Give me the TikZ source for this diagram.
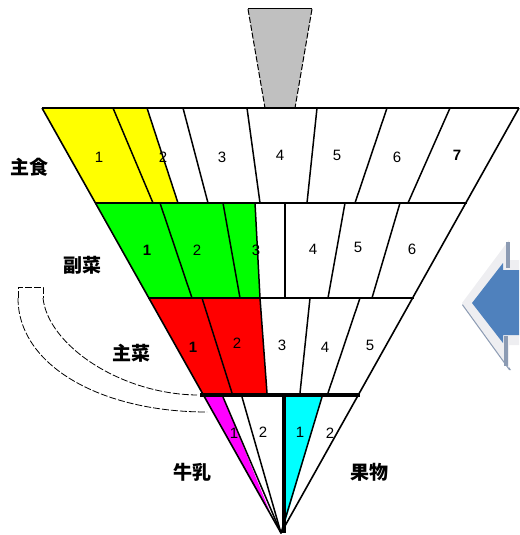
\documentclass[tikz,border=0pt]{standalone}
\usepackage{fontspec}
\setmainfont{Liberation Sans}
\newfontfamily\cjk{Noto Sans CJK JP}
\begin{document}
\begin{tikzpicture}[x=1pt,y=-1pt,line join=round,
  num/.style={font=\fontsize{15}{15}\selectfont,inner sep=0pt},
  bnum/.style={font=\bfseries\fontsize{15}{15}\selectfont,inner sep=0pt},
  lab/.style={font=\cjk\bfseries\fontsize{19}{19}\selectfont,inner sep=0pt},
  edge/.style={line width=1.6pt},
  divl/.style={line width=1.5pt},
  rowl/.style={line width=2.8pt},
  band/.style={line width=0.8pt,dash pattern=on 7pt off 2pt}]
\useasboundingbox (0,0) rectangle (519,535);
\definecolor{cgray}{HTML}{C0C0C0}
\definecolor{cyel}{HTML}{FFFF00}
\definecolor{cgrn}{HTML}{00FF00}
\definecolor{cred}{HTML}{FF0000}
\definecolor{cmag}{HTML}{FF00FF}
\definecolor{ccyan}{HTML}{00FFFF}
\definecolor{arrblue}{HTML}{4F81BD}
\definecolor{bevel}{HTML}{EEEEF1}
\definecolor{shad}{HTML}{8C9BB3}
% handle
\fill[cgray] (248,9)--(312,9)--(295,108)--(265,108)--cycle;
\draw[line width=1pt] (248,9)--(312,9);
\draw[line width=1pt,dash pattern=on 6pt off 2pt] (248,9)--(265,108);
\draw[line width=1pt,dash pattern=on 6pt off 2pt] (312,9)--(295,108);
% colour fills
\fill[cyel] (42,108)--(147,108)--(178,203)--(95.4,203)--cycle;
\fill[cgrn] (95.4,203)--(255,203)--(260,298)--(148.9,298)--cycle;
\fill[cred] (148.9,298)--(260,298)--(267,393)--(202.3,393)--cycle;
\fill[cmag] (204,397)--(223,397)--(270,512)--cycle;
\fill[ccyan] (285,397)--(322,397)--(286,520)--cycle;
% outline
\draw[edge] (42,108)--(519,108);
\draw[edge] (42,108)--(281,533)--(519,108);
\draw[rowl] (95,203)--(467,203);
\draw[rowl] (148,298)--(414,298);
\draw[line width=4.5pt] (200,395)--(360,395);
% row 1 dividers
\foreach \a/\b in {113/153,147/178,183/208,247/260,317/307,387/355,450/408}
  \draw[divl] (\a,108)--(\b,203);
% row 2 dividers
\foreach \a/\b in {160/192,223/240,255/260,285/285,345/328,400/372}
  \draw[divl] (\a,203)--(\b,298);
% row 3 dividers
\foreach \a/\b in {202/232,260/267,310/300,360/328}
  \draw[divl] (\a,298)--(\b,393);
% row 4
\draw[divl] (223,397)--(281,533);
\draw[divl] (242,397)--(281,533);
\draw[divl] (322,397)--(281,533);
\draw[line width=4pt] (283.5,395)--(283.5,533);
% numbers row 1
\node[num] (a1) at (99,157) {1};
\node[num] (a2) at (163,157) {2};
\node[num] (a3) at (222,157) {3};
\node[num] (a4) at (280,155) {4};
\node[num] (a5) at (337,155) {5};
\node[num] (a6) at (397,157) {6};
\node[bnum] (a7) at (457,155) {7};
% row 2
\node[bnum] (b1) at (147,250) {1};
\node[num] (b2) at (197,250) {2};
\node[num] (b3) at (256,250) {3};
\node[num] (b4) at (313,249) {4};
\node[num] (b5) at (358,247) {5};
\node[num] (b6) at (412,249) {6};
% row 3
\node[bnum] (c1) at (193,347) {1};
\node[num] (c2) at (237,343) {2};
\node[num] (c3) at (282,345) {3};
\node[num] (c4) at (325,347) {4};
\node[num] (c5) at (370,345) {5};
% row 4
\node[num] (d1) at (234,433) {1};
\node[num] (d2) at (263,432) {2};
\node[num] (e1) at (300,432) {1};
\node[num] (e2) at (330,433) {2};
% labels
\node[lab] (shushoku) at (29,167) {主食};
\node[lab] (fukusai) at (82,265) {副菜};
\node[lab] (shusai) at (131,353) {主菜};
\node[lab] (gyunyu) at (192,472) {牛乳};
\node[lab] (kudamono) at (369,472) {果物};
% dashed band
\draw[band] (18,298)--(18,287)--(43,287)--(43,298);
\draw[band] (18,298) .. controls (18,365) and (100,412) .. (207,412);
\draw[band] (43,298) .. controls (48,345) and (120,394) .. (197,395);
% block arrow
\fill[shad] (462,305)--(509,370)--(511,370)--(464,303)--cycle;
\fill[bevel] (462,303)--(509,240)--(509,260)--(519,260)--(519,345)--(509,345)--(509,368)--cycle;
\fill[shad] (506,242)--(510,242)--(510,268)--(506,268)--cycle;
\fill[shad] (504,336)--(508,336)--(508,366)--(504,366)--cycle;
\fill[arrblue] (472,303)--(503,263)--(503,270)--(519,270)--(519,335)--(503,335)--(503,343)--cycle;
\end{tikzpicture}
\end{document}
